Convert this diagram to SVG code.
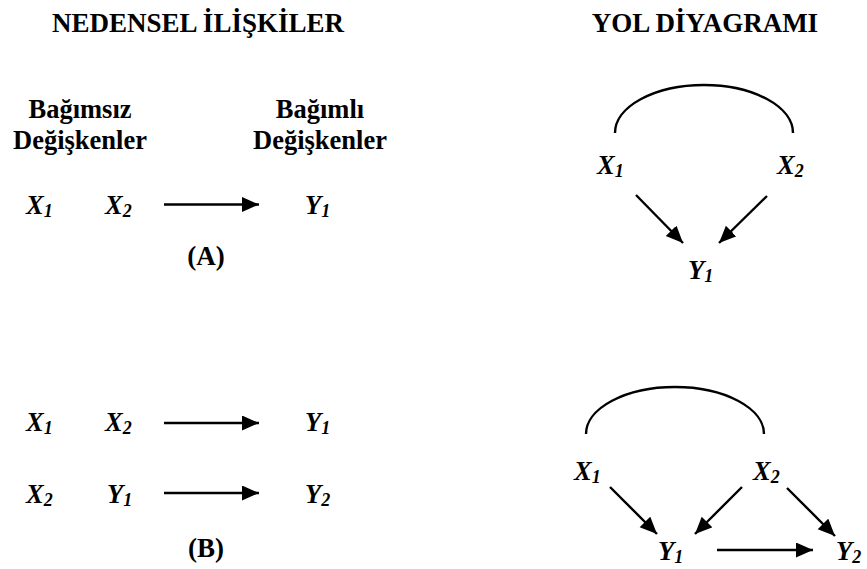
<svg xmlns="http://www.w3.org/2000/svg" width="867" height="569" viewBox="0 0 867 569">
<style>
text{font-family:"Liberation Serif","Times New Roman",serif;font-weight:bold;fill:#000}
.t{font-size:27px}
.h{font-size:26.5px;text-anchor:middle}
.v{font-size:26.5px;font-style:italic}
.s{font-size:18px}
.c{text-anchor:middle}
.ln{stroke:#000;stroke-width:2.4;fill:none}
</style>
<defs>
<marker id="ah" markerUnits="userSpaceOnUse" markerWidth="18" markerHeight="16" refX="17" refY="7.5" orient="auto">
<path d="M0,0 L17,7.5 L0,15 Z" fill="#000"/>
</marker>
</defs>
<rect width="867" height="569" fill="#fff"/>
<g id="titles">
<text class="t c" x="198" y="32">NEDENSEL İLİŞKİLER</text>
<text class="t c" x="705" y="32">YOL DİYAGRAMI</text>
</g>
<g id="headers">
<text class="h" x="80" y="118">Bağımsız</text>
<text class="h" x="80" y="149">Değişkenler</text>
<text class="h" x="320" y="118">Bağımlı</text>
<text class="h" x="320" y="149">Değişkenler</text>
</g>
<g id="labelA"><text class="t c" x="206" y="265">(A)</text></g>
<g id="labelB"><text class="t c" x="206" y="557">(B)</text></g>
<g id="rowA">
<text class="v" x="26" y="214">X<tspan class="s" dy="3">1</tspan></text>
<text class="v" x="105" y="214">X<tspan class="s" dy="3">2</tspan></text>
<text class="v" x="305" y="214">Y<tspan class="s" dy="3">1</tspan></text>
</g>
<g id="rowB1">
<text class="v" x="26" y="431">X<tspan class="s" dy="3">1</tspan></text>
<text class="v" x="105" y="431">X<tspan class="s" dy="3">2</tspan></text>
<text class="v" x="305" y="431">Y<tspan class="s" dy="3">1</tspan></text>
</g>
<g id="rowB2">
<text class="v" x="26" y="503">X<tspan class="s" dy="3">2</tspan></text>
<text class="v" x="107" y="503">Y<tspan class="s" dy="3">1</tspan></text>
<text class="v" x="305" y="503">Y<tspan class="s" dy="3">2</tspan></text>
</g>
<g id="pathA-X1"><text class="v" x="597" y="174">X<tspan class="s" dy="3">1</tspan></text></g>
<g id="pathA-X2"><text class="v" x="777" y="174">X<tspan class="s" dy="3">2</tspan></text></g>
<g id="pathA-Y1"><text class="v" x="688" y="279">Y<tspan class="s" dy="3">1</tspan></text></g>
<g id="pathB-X1"><text class="v" x="574" y="480">X<tspan class="s" dy="3">1</tspan></text></g>
<g id="pathB-X2"><text class="v" x="753" y="480">X<tspan class="s" dy="3">2</tspan></text></g>
<g id="pathB-Y1"><text class="v" x="658" y="560">Y<tspan class="s" dy="3">1</tspan></text></g>
<g id="pathB-Y2"><text class="v" x="836" y="560">Y<tspan class="s" dy="3">2</tspan></text></g>
<g id="connectors">
<line class="ln" x1="164" y1="204.5" x2="259" y2="204.5" marker-end="url(#ah)"/>
<line class="ln" x1="164" y1="423" x2="259" y2="423" marker-end="url(#ah)"/>
<line class="ln" x1="164" y1="493" x2="259" y2="493" marker-end="url(#ah)"/>
<path class="ln" d="M615,133 A89,48 0 0 1 793,133"/>
<line class="ln" x1="636" y1="195" x2="683" y2="243" marker-end="url(#ah)"/>
<line class="ln" x1="767" y1="196" x2="719" y2="243" marker-end="url(#ah)"/>
<path class="ln" d="M586,434 A89,47 0 0 1 764,434"/>
<line class="ln" x1="610" y1="487" x2="657" y2="534" marker-end="url(#ah)"/>
<line class="ln" x1="742" y1="487" x2="695" y2="534" marker-end="url(#ah)"/>
<line class="ln" x1="787" y1="488" x2="835" y2="536" marker-end="url(#ah)"/>
<line class="ln" x1="717" y1="550" x2="813" y2="550" marker-end="url(#ah)"/>
</g>
</svg>
